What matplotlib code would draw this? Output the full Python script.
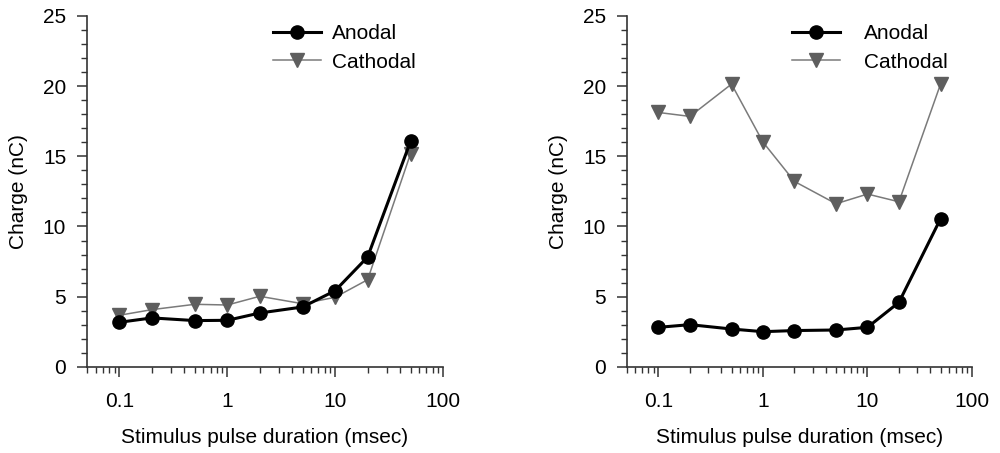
import matplotlib
matplotlib.use("Agg")
import matplotlib.pyplot as plt
from matplotlib.ticker import LogLocator, MultipleLocator, FixedLocator, FixedFormatter, NullFormatter

plt.rcParams['font.family'] = ['Liberation Sans', 'DejaVu Sans']

durations = [0.1, 0.2, 0.5, 1, 2, 5, 10, 20, 50]

left_anodal = [3.18, 3.49, 3.30, 3.32, 3.84, 4.27, 5.43, 7.83, 16.06]
left_cathodal = [3.68, 4.08, 4.46, 4.41, 5.03, 4.50, 4.96, 6.21, 15.18]

right_anodal = [2.82, 3.01, 2.70, 2.51, 2.59, 2.63, 2.82, 4.60, 10.55]
right_cathodal = [18.12, 17.84, 20.14, 16.01, 13.21, 11.62, 12.31, 11.76, 20.14]

xtick_vals = [0.1, 1, 10, 100]
xtick_labels = ["0.1", "1", "10", "100"]
series_names = ["Anodal", "Cathodal"]

fig = plt.figure(figsize=(10, 4.53), dpi=100)
ax1 = fig.add_axes([0.087, 0.19, 0.356, 0.775])
ax2 = fig.add_axes([0.627, 0.19, 0.345, 0.775])

panels = [(ax1, left_anodal, left_cathodal, 0.55, 0.947),
          (ax2, right_anodal, right_cathodal, 1.15, 0.954)]

FS = 15
for ax, an, ca, htp, lx in panels:
    ax.plot(durations, an, color='black', lw=2.2, marker='o', ms=9.5,
            label=series_names[0], zorder=3)
    ax.plot(durations, ca, color='#7a7a7a', lw=1.1, marker='v', ms=9.5,
            mfc='#5e5e5e', mec='#5e5e5e', label=series_names[1], zorder=2)
    ax.set_xscale('log')
    ax.set_xlim(0.05, 100)
    ax.set_ylim(0, 25)
    ax.xaxis.set_major_locator(FixedLocator(xtick_vals))
    ax.xaxis.set_major_formatter(FixedFormatter(xtick_labels))
    ax.xaxis.set_minor_locator(LogLocator(base=10, subs=range(2, 10), numticks=20))
    ax.xaxis.set_minor_formatter(NullFormatter())
    ax.yaxis.set_major_locator(MultipleLocator(5))
    ax.yaxis.set_minor_locator(MultipleLocator(1))
    for s in ['top', 'right']:
        ax.spines[s].set_visible(False)
    for s in ['left', 'bottom']:
        ax.spines[s].set_color('#333333')
        ax.spines[s].set_linewidth(1.2)
    ax.tick_params(which='major', direction='out', length=7, width=1.1,
                   color='#333333', labelsize=FS)
    ax.tick_params(axis='x', which='major', pad=11)
    ax.tick_params(axis='y', which='major', pad=8)
    ax.tick_params(which='minor', direction='out', length=4, width=1.0,
                   color='#333333')
    ax.set_xlabel("Stimulus pulse duration (msec)", fontsize=FS, labelpad=12)
    ax.set_ylabel("Charge (nC)", fontsize=FS, labelpad=11)
    ax.legend(loc='upper right', frameon=False, fontsize=FS,
              handlelength=2.3, handletextpad=htp, borderaxespad=0,
              labelspacing=0.45, bbox_to_anchor=(lx, 1.0))

fig.savefig("out.png", dpi=100)
